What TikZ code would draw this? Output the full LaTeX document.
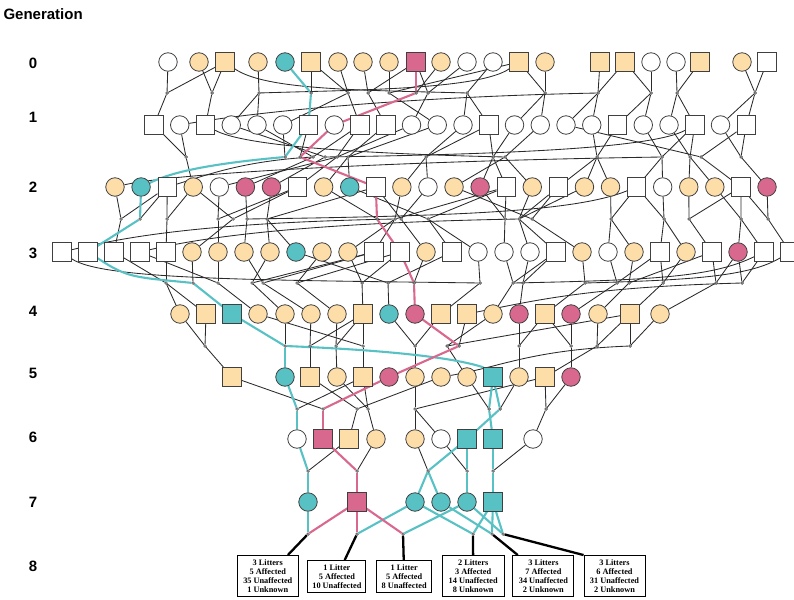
\documentclass[tikz,border=0pt]{standalone}
\usepackage{fontspec}
\setmainfont{Liberation Serif}
\setsansfont{Liberation Sans}
\pgfdeclarelayer{bg}\pgfdeclarelayer{mid}
\pgfsetlayers{bg,mid,main}
\definecolor{corange}{HTML}{FDDDA8}
\definecolor{cteal}{HTML}{57C1C4}
\definecolor{cpink}{HTML}{D9688E}
\definecolor{cline}{HTML}{2A2A2A}
\begin{document}
\begin{tikzpicture}[x=1pt,y=-1pt,
  nd/.style={draw=black!75,line width=0.8pt,inner sep=0pt,minimum size=18.5pt},
  cW/.style={nd,circle,fill=white}, cO/.style={nd,circle,fill=corange},
  cT/.style={nd,circle,fill=cteal}, cP/.style={nd,circle,fill=cpink},
  sW/.style={nd,rectangle,fill=white}, sO/.style={nd,rectangle,fill=corange},
  sT/.style={nd,rectangle,fill=cteal}, sP/.style={nd,rectangle,fill=cpink},
  md/.style={circle,draw=black!80,fill=black!40,line width=0.35pt,inner sep=0pt,minimum size=3pt},
  ln/.style={draw=cline,line width=0.85pt},
  lt/.style={draw=cteal,line width=2.1pt,line join=round},
  lp/.style={draw=cpink,line width=2.1pt,line join=round},
  lk/.style={draw=black,line width=2.3pt},
  box/.style={draw=black,line width=0.9pt,fill=white,align=center,inner sep=0pt,
    font=\bfseries\fontsize{8.3}{8.8}\selectfont},
  glab/.style={font=\sffamily\bfseries\fontsize{15}{18}\selectfont}]
\useasboundingbox (0,0) rectangle (794,599);
% labels
\node[glab,anchor=west] (title) at (0,14) {Generation};
\foreach \n/\y in {0/63,1/117,2/187,3/253,4/311,5/373,6/437,7/502,8/566}
  \node[glab] (lab\n) at (33,\y) {\n};
% generation 0
\foreach \x/\s [count=\i] in {168/cW,199/cO,225/sO,258/cO,285/cT,311/sO,338/cO,363/cO,389/cO,416/sP,441/cO,467/cW,493/cW,519/sO,545/cO,600/sO,625/sO,651/cW,676/cW,700/sO,742/cO,767/sW}
  \node[\s] (g0-\i) at (\x,62) {};
% generation 1
\foreach \s [count=\i] in {sW,cW,sW,cW,cW,cW,sW,cW,sW,sW,cW,cW,cW,sW,cW,cW,cW,cW,sW,cW,cW,sW,cW,sW}
  \node[\s] (g1-\i) at ({154+25.75*(\i-1)},125) {};
% generation 2
\foreach \s [count=\i] in {cO,cT,sW,cO,cW,cP,cP,sW,cO,cT,sW,cO,cW,cO,cP,sW,cO,sW,cO,cO,sW,cW,cO,cO,sW,cP}
  \node[\s] (g2-\i) at ({115+26.08*(\i-1)},187) {};
% generation 3
\foreach \s [count=\i] in {sW,sW,sW,sW,sW,cO,cO,cO,cO,cT,cO,cO,sW,sW,cO,sW,cW,cW,cW,sW,cO,cW,cO,sW,cO,sW,cP,sW,sW}
  \node[\s] (g3-\i) at ({62+26*(\i-1)},252) {};
% generation 4
\foreach \x/\s [count=\i] in {180/cO,206/sO,232/sT,258/cO,285/cO,311/cO,337/cO,363/sO,389/cT,415/cP,441/sO,467/sO,493/cO,519/cP,545/sO,571/cP,598/cO,630/sO,660/cO}
  \node[\s] (g4-\i) at (\x,314) {};
% generation 5
\foreach \x/\s [count=\i] in {232/sO,285/cT,310/sO,337/cO,363/sO,389/cP,415/cO,441/cO,467/cO,493/sT,519/cO,545/sO,571/cP}
  \node[\s] (g5-\i) at (\x,377) {};
% generation 6
\foreach \x/\s [count=\i] in {297/cW,323/sP,349/sO,376/cO,415/cO,441/cW,467/sT,493/sT,533/cW}
  \node[\s] (g6-\i) at (\x,439) {};
% generation 7
\foreach \x/\s [count=\i] in {308/cT,357/sP,415/cT,441/cT,467/cT,493/sT}
  \node[\s] (g7-\i) at (\x,502) {};
% mating dots
\foreach \n/\x in {a1/167,a2/212,a3/259,a4/311,a5/348,a6/368,a7/389,a8/416,a9/428,a10/467,a11/545,a12/598,a13/651,a14/677,a15/755}
  \node[md] (\n) at (\x,93) {};
\foreach \n/\x in {b1/186,b2/285,b3/300,b4/313,b5/325,b6/337,b7/348,b8/426,b9/493,b10/505,b11/597,b12/662,b13/690,b14/701,b15/741}
  \node[md] (\n) at (\x,157) {};
\foreach \n/\x in {c1/121,c2/140,c3/167,c4/218,c5/233,c6/247,c7/267,c8/377,c9/395,c10/401,c11/428,c12/505,c13/519,c14/532,c15/611,c16/664,c17/689,c18/741,c19/768}
  \node[md] (\n) at (\x,219) {};
\foreach \n/\x in {d1/166,d2/193,d3/218,d4/252,d5/263,d6/297,d7/362,d8/388,d9/414,d10/480,d11/513,d12/523,d13/585,d14/617,d15/629,d16/663,d17/716,d18/742}
  \node[md] (\n) at (\x,283) {};
\foreach \n/\x in {e1/205,e2/285,e3/310,e4/336,e5/363,e6/415,e7/447,e8/459,e9/519,e10/571,e11/597,e12/630}
  \node[md] (\n) at (\x,346) {};
\foreach \n/\x in {f1/297,f2/323,f3/357,f4/368,f5/415,f6/489,f7/500,f8/546}
  \node[md] (\n) at (\x,409) {};
\foreach \n/\x in {gA/308,gB/357,gC/428,gD/467,gE/493}
  \node[md] (\n) at (\x,471) {};
\foreach \n/\x in {h1/308,h2/357,h3/403,h4/473,h5/492,h6/503}
  \node[md] (\n) at (\x,534) {};
% litter boxes
\node[box,minimum width=61pt,minimum height=41pt] (B1) at (267.8,576) {3 Litters\\5 Affected\\35 Unaffected\\1 Unknown};
\node[box,minimum width=58pt,minimum height=32pt] (B2) at (336.9,576.5) {1 Litter\\5 Affected\\10 Unaffected};
\node[box,minimum width=55pt,minimum height=32pt] (B3) at (404.2,576.5) {1 Litter\\5 Affected\\8 Unaffected};
\node[box,minimum width=62pt,minimum height=41pt] (B4) at (473.2,576) {2 Litters\\3 Affected\\14 Unaffected\\8 Unknown};
\node[box,minimum width=61pt,minimum height=41pt] (B5) at (543.4,576) {3 Litters\\7 Affected\\34 Unaffected\\2 Unknown};
\node[box,minimum width=61pt,minimum height=41pt] (B6) at (614.5,576) {3 Litters\\6 Affected\\31 Unaffected\\2 Unknown};
% black connectors
\begin{pgfonlayer}{bg}
\foreach \p/\q in {g0-1/a1,g0-3/a1,g0-2/a2,g0-3/a2,g0-4/a3,g0-6/a4,g0-7/a5,g0-6/a5,g0-8/a6,g0-10/a6,g0-9/a7,g0-14/a7,g0-11/a8,g0-12/a9,g0-10/a9,g0-13/a10,g0-14/a11,g0-15/a11,g0-16/a12,g0-17/a12,g0-17/a13,g0-18/a13,g0-19/a14,g0-20/a14,g0-21/a15,g0-22/a15,
 a1/g1-1,a2/g1-3,a3/g1-5,a3/g1-4,a5/g1-6,a5/g1-9,a6/g1-10,a7/g1-12,a9/g1-11,a10/g1-13,a10/g1-14,a11/g1-16,a11/g1-15,a12/g1-18,a12/g1-17,a13/g1-19,a13/g1-20,a14/g1-21,a14/g1-22,a15/g1-24,a15/g1-23,
 g1-1/b1,g1-2/b1,g1-6/b2,g1-7/b3,g1-5/b4,g1-9/b4,g1-4/b5,g1-11/b6,g1-9/b6,g1-12/b7,g1-10/b7,g1-13/b8,g1-14/b8,g1-15/b9,g1-14/b9,g1-16/b10,g1-18/b11,g1-19/b11,g1-20/b12,g1-22/b12,g1-21/b13,g1-22/b13,g1-17/b14,g1-24/b14,g1-23/b15,g1-24/b15,
 b1/g2-4,b4/g2-6,b5/g2-7,b6/g2-8,b6/g2-5,b7/g2-10,b7/g2-9,b8/g2-13,b8/g2-12,b9/g2-16,b9/g2-15,b10/g2-17,b10/g2-14,b11/g2-19,b11/g2-20,b11/g2-18,b12/g2-22,b12/g2-21,b13/g2-23,b13/g2-24,b14/g2-25,b15/g2-26,
 g2-1/c1,g2-3/c1,g2-3/c2,g2-3/c3,g2-4/c3,g2-5/c4,g2-8/c4,g2-4/c5,g2-8/c5,g2-6/c6,g2-7/c7,g2-11/c7,g2-9/c8,g2-12/c9,g2-16/c9,g2-13/c10,g2-11/c10,g2-10/c11,g2-16/c11,g2-15/c12,g2-16/c12,g2-17/c13,g2-18/c13,g2-19/c13,g2-14/c14,g2-18/c14,g2-20/c15,g2-21/c15,g2-22/c16,g2-21/c16,g2-23/c17,g2-25/c17,g2-24/c18,g2-25/c18,g2-26/c19,g2-25/c19,
 c1/g3-3,c3/g3-5,c4/g3-7,c5/g3-6,c6/g3-8,c7/g3-9,c7/g3-10,c9/g3-13,c9/g3-12,c10/g3-15,c11/g3-16,c11/g3-17,c12/g3-18,c13/g3-20,c13/g3-19,c14/g3-21,c15/g3-22,c15/g3-23,c16/g3-24,c16/g3-25,c17/g3-26,c18/g3-27,c18/g3-28,c19/g3-29,
 g3-5/d1,g3-3/d1,g3-6/d2,g3-7/d3,g3-4/d3,g3-9/d4,g3-13/d4,g3-8/d5,g3-13/d5,g3-11/d6,g3-14/d6,g3-12/d7,g3-14/d7,g3-10/d8,g3-16/d8,g3-15/d9,g3-17/d10,g3-18/d11,g3-20/d11,g3-19/d12,g3-20/d12,g3-21/d13,g3-22/d14,g3-24/d14,g3-23/d15,g3-26/d15,g3-25/d16,g3-24/d16,g3-26/d17,g3-27/d17,g3-27/d18,g3-28/d18,
 d1/g4-1,d1/g4-2,d3/g4-4,d4/g4-5,d5/g4-6,d6/g4-7,d7/g4-8,d8/g4-9,d10/g4-11,d11/g4-13,d12/g4-14,d13/g4-15,d14/g4-16,d15/g4-17,d16/g4-18,d17/g4-19,
 g4-1/e1,g4-2/e1,g4-5/e2,g4-6/e3,g4-8/e3,g4-7/e4,g4-8/e4,g4-4/e5,g4-8/e5,g4-9/e6,g4-11/e6,g4-13/e7,g4-18/e7,g4-12/e8,g4-14/e9,g4-15/e9,g4-16/e10,g4-15/e10,g4-17/e11,g4-18/e11,g4-19/e12,g4-18/e12,
 e1/g5-1,e3/g5-3,e4/g5-4,e5/g5-5,e6/g5-7,e7/g5-9,e9/g5-11,e10/g5-13,e11/g5-12,
 g5-5/f1,g5-1/f2,g5-3/f3,g5-8/f3,g5-4/f4,g5-5/f4,g5-7/f5,g5-12/f5,g5-9/f6,g5-11/f7,g5-12/f8,g5-13/f8,
 f3/g6-3,f4/g6-4,f5/g6-5,f5/g6-6,f8/g6-9,
 g6-3/gA,g6-4/gB,g6-5/gC,g6-6/gD,g6-9/gE}
  \draw[ln] (\p) -- (\q);
% long curved connectors
\draw[ln] (g0-14) .. controls +(-40,28) and +(90,-3) .. (a3);
\draw[ln] (g0-3) .. controls +(40,28) and +(-110,-3) .. (a10);
\draw[ln] (a12) .. controls +(-200,4) and +(70,-12) .. (g1-2);
\draw[ln] (g1-3) .. controls +(40,22) and +(-130,-3) .. (b10);
\draw[ln] (g1-22) .. controls +(-40,22) and +(200,-3) .. (b5);
\draw[ln] (b12) .. controls +(-260,4) and +(60,-14) .. (g2-1);
\draw[ln] (b4) .. controls +(-70,4) and +(40,-12) .. (g2-3);
\draw[ln] (g2-21) .. controls +(-60,24) and +(220,-3) .. (c6);
\draw[ln] (c9) .. controls +(-200,4) and +(60,-14) .. (g3-1);
\draw[ln] (c13) .. controls +(-220,4) and +(60,-14) .. (g3-4);
\draw[ln] (g3-1) .. controls +(40,28) and +(-220,-3) .. (d10);
\draw[ln] (g3-28) .. controls +(-50,24) and +(150,-3) .. (d11);
\draw[ln] (g3-29) .. controls +(-40,24) and +(110,-3) .. (d13);
\draw[ln] (d18) .. controls +(-150,4) and +(70,-14) .. (g4-12);
\draw[ln] (e12) .. controls +(-100,4) and +(60,-10) .. (g5-8);
% litter connectors
\draw[lk] (h1) -- (B1);
\draw[lk] (h2) -- (B2);
\draw[lk] (h3) -- (B3);
\draw[lk] (h4) -- (B4);
\draw[lk] (h5) -- (B5);
\draw[lk] (h6) -- (B6.north west);
\end{pgfonlayer}
% coloured lineages
\begin{pgfonlayer}{mid}
\foreach \p/\q in {g0-5/a4,a4/g1-7,g1-7/b2,c2/g3-2,d2/g4-3,g4-3/e2,e2/g5-2,g5-2/f1,f1/g6-1,g5-10/f6,g5-10/f7,f6/g6-8,f7/g6-7,
 g6-1/gA,gA/g7-1,g6-7/gC,gC/g7-3,gC/g7-4,g6-7/gD,gD/g7-5,g6-8/gE,gE/g7-6,
 g7-1/h1,g7-3/h2,g7-5/h3,g7-3/h4,g7-6/h4,g7-4/h5,g7-6/h5,g7-5/h6,g7-6/h6}
  \draw[lt] (\p) -- (\q);
\draw[lt] (b2) .. controls +(-90,8) and +(25,-12) .. (g2-2);
\draw[lt] (g2-2) -- (c2);
\draw[lt] (g3-2) .. controls +(40,26) and +(-60,-6) .. (d2);
\draw[lt] (e2) .. controls +(100,4) and +(-30,-10) .. (g5-10.north west);
\foreach \p/\q in {g0-10/a8,a8/g1-8,g1-8/b3,b3/g2-11,g2-11/c8,c8/g3-14,g3-14/d9,d9/g4-10,g4-10/e8,e8/g5-6,g5-6/f2,f2/g6-2,g6-2/gB,gB/g7-2,g7-2/h1,g7-2/h2,g7-2/h3}
  \draw[lp] (\p) -- (\q);
\end{pgfonlayer}
\end{tikzpicture}
\end{document}
